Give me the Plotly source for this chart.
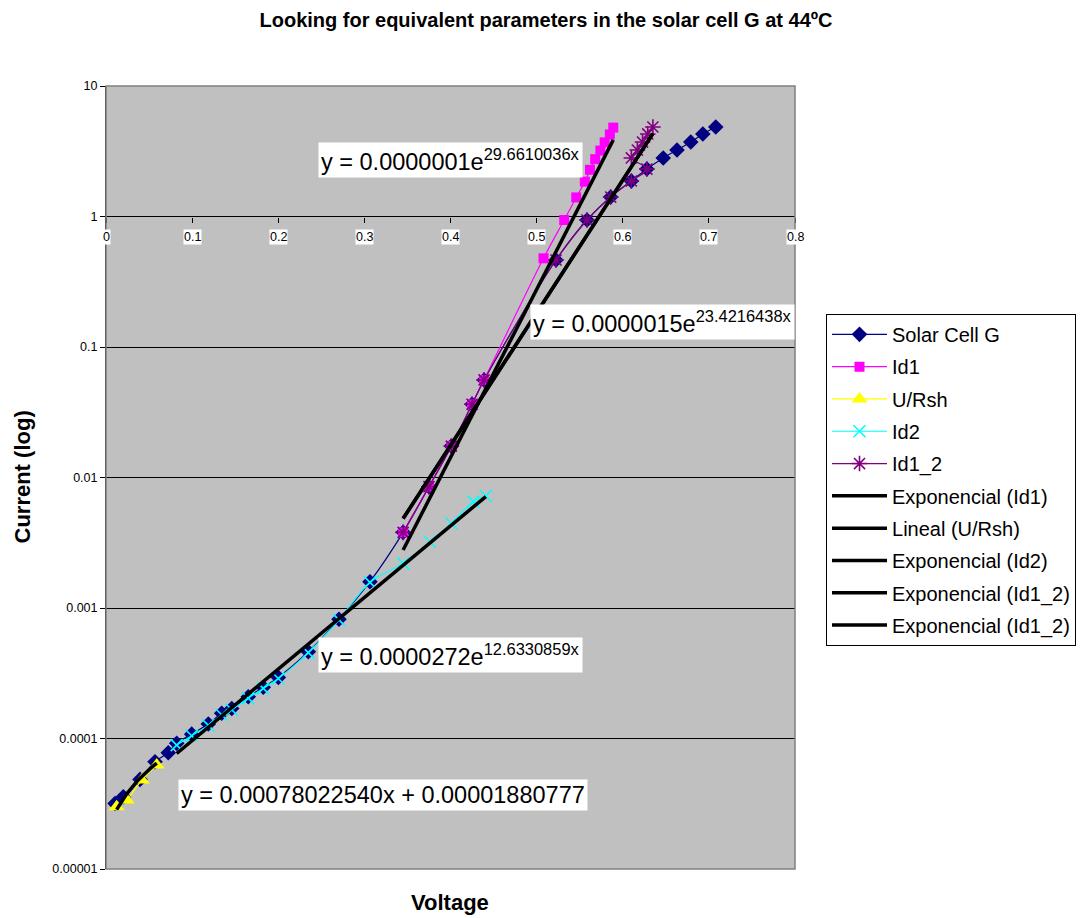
import numpy as np
import plotly.graph_objects as go

# ---- measured data (Voltage in V, Current in A) ----
cell_v = [0.0105, 0.0201, 0.0395, 0.0569, 0.0723, 0.0821, 0.0995, 0.1188, 0.1343, 0.146,
          0.1652, 0.1826, 0.2001, 0.2349, 0.2705, 0.3065, 0.345, 0.375, 0.401, 0.425,
          0.439, 0.5225, 0.5585, 0.586, 0.610, 0.628, 0.647, 0.663, 0.679, 0.693, 0.708]
cell_i = [3.18e-5, 3.58e-5, 4.86e-5, 6.64e-5, 7.78e-5, 9.18e-5, 1.08e-4, 1.29e-4, 1.56e-4, 1.70e-4,
          2.09e-4, 2.47e-4, 2.94e-4, 4.62e-4, 8.19e-4, 1.59e-3, 0.0038, 0.0085, 0.0174, 0.0364,
          0.0559, 0.464, 0.94, 1.41, 1.87, 2.31, 2.81, 3.23, 3.72, 4.29, 4.85]

id1_v = [0.345, 0.375, 0.401, 0.425, 0.439, 0.508, 0.532, 0.546, 0.556, 0.562,
         0.568, 0.574, 0.579, 0.585, 0.589]
id1_i = [0.0038, 0.0085, 0.0174, 0.0364, 0.0559, 0.478, 0.94, 1.40, 1.85, 2.28,
         2.75, 3.2, 3.7, 4.25, 4.8]

ursh_v = [0.0124, 0.024, 0.0415, 0.0589]
ursh_i = [3.0e-5, 3.38e-5, 4.8e-5, 6.26e-5]

id2_v = [0.0821, 0.0995, 0.1188, 0.1343, 0.146, 0.1652, 0.1826, 0.2001, 0.2349, 0.2705,
         0.3065, 0.345, 0.376, 0.401, 0.4265, 0.441]
id2_i = [8.9e-5, 1.05e-4, 1.26e-4, 1.52e-4, 1.66e-4, 2.04e-4, 2.42e-4, 2.88e-4, 4.55e-4, 8.1e-4,
         1.57e-3, 0.0022, 0.00322, 0.00446, 0.00653, 0.00721]

id12_v = [0.345, 0.375, 0.401, 0.425, 0.439, 0.5225, 0.5585, 0.586, 0.610, 0.628,
          0.610, 0.617, 0.623, 0.629, 0.635]
id12_i = [0.0038, 0.0085, 0.0174, 0.0364, 0.0559, 0.464, 0.94, 1.41, 1.87, 2.31,
          2.81, 3.23, 3.72, 4.29, 4.85]

# ---- trendline coefficients ----
exp_id1 = (0.0000001, 29.6610036)
lin_ursh = (0.00078022540, 0.00001880777)
exp_id2 = (0.0000272, 12.6330859)
exp_id12 = (0.0000015, 23.4216438)

x_ticks = [0, 0.1, 0.2, 0.3, 0.4, 0.5, 0.6, 0.7, 0.8]
y_ticks = [1e-5, 1e-4, 1e-3, 1e-2, 1e-1, 1, 10]
y_ticktext = ["0.00001", "0.0001", "0.001", "0.01", "0.1", "1", "10"]

FONT = "Liberation Sans, Arial, sans-serif"
TICK_SIZE = 12.5

fig = go.Figure()

def series(name, xs, ys, color, symbol, size, mline=None):
    marker = dict(symbol=symbol, size=size, color=color)
    if mline is not None:
        marker["line"] = dict(color=color, width=mline)
    fig.add_trace(go.Scatter(x=xs, y=ys, name=name, legendgroup=name, mode="lines+markers",
                             line=dict(color=color, width=1.2, shape="spline", smoothing=1),
                             marker=marker))

series("Solar Cell G", cell_v, cell_i, "#000080", "diamond", 12)
series("Id1", id1_v, id1_i, "#FF00FF", "square", 10)
series("U/Rsh", ursh_v, ursh_i, "#FFFF00", "triangle-up", 14)
series("Id2", id2_v, id2_i, "#00FFFF", "x-thin-open", 12, 1.6)
series("Id1_2", id12_v, id12_i, "#800080", "asterisk-open", 13, 1.6)

def trend(name, group, xs, ys):
    fig.add_trace(go.Scatter(x=xs, y=ys, name=name, legendgroup=group, mode="lines",
                             line=dict(color="black", width=3.5)))

t1 = np.linspace(min(id1_v), max(id1_v), 60)
trend("Exponencial (Id1)", "t1", t1, exp_id1[0] * np.exp(exp_id1[1] * t1))
t2 = np.linspace(min(ursh_v), max(ursh_v), 40)
trend("Lineal (U/Rsh)", "t2", t2, lin_ursh[0] * t2 + lin_ursh[1])
t3 = np.linspace(min(id2_v), max(id2_v), 60)
trend("Exponencial (Id2)", "t3", t3, exp_id2[0] * np.exp(exp_id2[1] * t3))
t4 = np.linspace(min(id12_v), max(id12_v), 60)
trend("Exponencial (Id1_2)", "t4", t4, exp_id12[0] * np.exp(exp_id12[1] * t4))
trend("Exponencial (Id1_2)", "t5", t4, exp_id12[0] * np.exp(exp_id12[1] * t4))

annotations = []

# equation labels
def eq_label(text, x, ylog):
    annotations.append(dict(text=text, x=x, y=ylog, xref="x", yref="y",
                            xanchor="left", yanchor="middle", showarrow=False,
                            bgcolor="white", borderpad=2,
                            font=dict(family=FONT, size=23.5, color="black")))

eq_label("y = %.7fe<sup>%.7fx</sup>" % exp_id1, 0.246, 0.433)
eq_label("y = %.7fe<sup>%.7fx</sup>" % exp_id12, 0.4925, -0.808)
eq_label("y = %.7fe<sup>%.7fx</sup>" % exp_id2, 0.246, -3.36)
eq_label("y = %.11fx + %.11f" % lin_ursh, 0.0837, -4.433)

# voltage tick labels sitting under the axis that crosses at 1
for t in x_ticks:
    annotations.append(dict(text=("%g" % t), x=t, y=0, xref="x", yref="y",
                            yshift=-20, showarrow=False, bgcolor="white", borderpad=0,
                            font=dict(family=FONT, size=TICK_SIZE, color="black")))

annotations.append(dict(text="<b>Voltage</b>", x=(450 - 106) / 689, y=-0.024,
                        xref="paper", yref="paper", xanchor="center", yanchor="top",
                        showarrow=False,
                        font=dict(family=FONT, size=22, color="black")))
annotations.append(dict(text="<b>Current (log)</b>", x=(22 - 106) / 689, y=0.5,
                        xref="paper", yref="paper", xanchor="center", yanchor="middle",
                        textangle=-90, showarrow=False,
                        font=dict(family=FONT, size=22, color="black")))

fig.update_layout(
    width=1080, height=918,
    margin=dict(l=106, r=285, t=86, b=49, autoexpand=False),
    paper_bgcolor="white", plot_bgcolor="#C0C0C0",
    title=dict(text="<b>Looking for equivalent parameters in the solar cell G at 44ºC</b>",
               x=546 / 1080, xanchor="center", y=1 - 20 / 918, yanchor="middle",
               font=dict(family=FONT, size=20, color="black")),
    font=dict(family=FONT, color="black"),
    showlegend=True,
    legend=dict(x=1.045, y=0.709, xanchor="left", yanchor="top",
                bgcolor="white", bordercolor="black", borderwidth=1,
                font=dict(family=FONT, size=20, color="black"),
                tracegroupgap=3.3, itemwidth=55),
    annotations=annotations,
    shapes=[dict(type="rect", xref="paper", yref="paper", x0=0, x1=1, y0=0, y1=1,
                 line=dict(color="#808080", width=1.5), layer="above")],
)

fig.update_xaxes(range=[0, 0.8], tickvals=x_ticks, showticklabels=False,
                 ticks="outside", ticklen=5, tickcolor="black",
                 anchor="free", position=5 / 6, showgrid=False, zeroline=False,
                 showline=False)
fig.update_yaxes(type="log", range=[-5, 1], tickvals=y_ticks, ticktext=y_ticktext,
                 ticks="outside", ticklen=5, tickcolor="black",
                 showline=True, linecolor="black", linewidth=1,
                 showgrid=True, gridcolor="black", gridwidth=1,
                 tickfont=dict(family=FONT, size=TICK_SIZE, color="black"))

fig.write_html("out.html")
